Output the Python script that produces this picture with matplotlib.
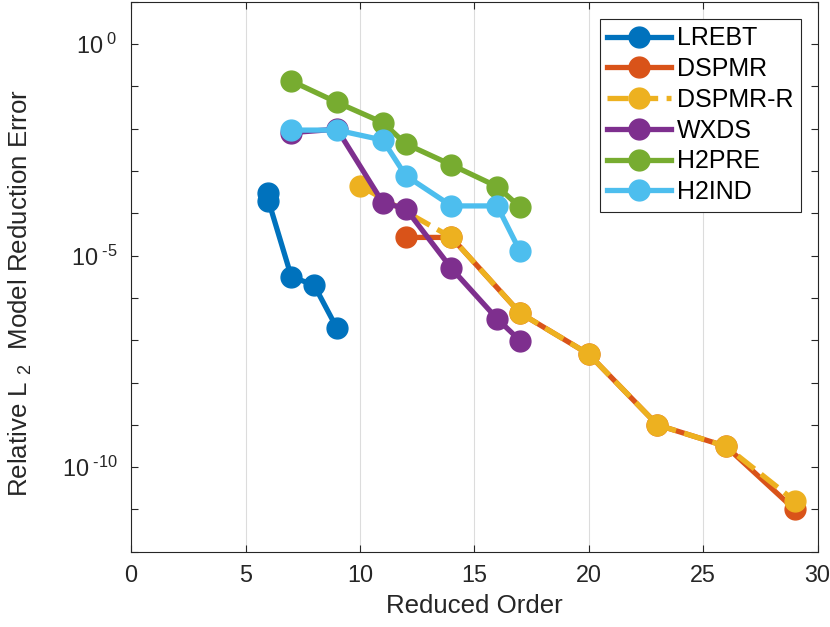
import matplotlib
matplotlib.use("Agg")
import matplotlib.pyplot as plt
from matplotlib.ticker import FixedLocator, FuncFormatter

plt.rcParams['font.family'] = ['Liberation Sans', 'DejaVu Sans']
plt.rcParams['mathtext.fontset'] = 'custom'
plt.rcParams['mathtext.rm'] = 'Liberation Sans'

# data (reduced order vs relative error)
lrebt_x = [6, 6, 7, 8, 9]
lrebt_err = [3.1e-4, 2.0e-4, 3.2e-6, 2.0e-6, 1.9e-7]

dspmr_x = [12, 14, 17, 20, 23, 26, 29]
dspmr_err = [2.7e-5, 2.7e-5, 4.4e-7, 4.7e-8, 1.0e-9, 3.1e-10, 1.0e-11]

dspmrr_x = [10, 14, 17, 20, 23, 26, 29]
dspmrr_err = [4.5e-4, 2.7e-5, 4.4e-7, 4.7e-8, 1.0e-9, 3.1e-10, 1.6e-11]

wxds_x = [7, 9, 11, 12, 14, 16, 17]
wxds_err = [8.1e-3, 9.8e-3, 1.8e-4, 1.3e-4, 5.0e-6, 3.2e-7, 9.8e-8]

h2pre_x = [7, 9, 11, 12, 14, 16, 17]
h2pre_err = [1.35e-1, 4.2e-2, 1.4e-2, 4.4e-3, 1.4e-3, 4.3e-4, 1.4e-4]

h2ind_x = [7, 9, 11, 12, 14, 16, 17]
h2ind_err = [9.3e-3, 9.3e-3, 5.4e-3, 7.8e-4, 1.5e-4, 1.5e-4, 1.26e-5]

xticks = [0, 5, 10, 15, 20, 25, 30]
ydecades = list(range(-12, 2))

fig = plt.figure(figsize=(8.3, 6.27), dpi=100)
ax = fig.add_axes([0.158, 0.12, 0.827, 0.877])

style = dict(lw=3.8, marker='o', ms=15)
ax.plot(lrebt_x, lrebt_err, color='#0072BD', label='LREBT', **style)
ax.plot(dspmr_x, dspmr_err, color='#D95319', label='DSPMR', **style)
ax.plot(dspmrr_x, dspmrr_err, color='#EDB120', ls=(0, (4, 1.6)), label='DSPMR-R', **style)
ax.plot(wxds_x, wxds_err, color='#7E2F8E', label='WXDS', **style)
ax.plot(h2pre_x, h2pre_err, color='#77AC30', label='H2PRE', **style)
ax.plot(h2ind_x, h2ind_err, color='#4DBEEE', label='H2IND', **style)

ax.set_yscale('log')
ax.set_xlim(0, 30)
ax.set_ylim(1e-12, 1e1)
ax.set_xticks(xticks)
ax.yaxis.set_major_locator(FixedLocator([10.0 ** d for d in ydecades]))
ax.yaxis.set_minor_locator(FixedLocator([]))


def fmt(v, pos):
    for d in (0, -5, -10):
        if abs(v - 10.0 ** d) < 1e-3 * 10.0 ** d:
            return r'$\mathregular{10^{\;\text{%d}}}$' % d
    return ''


ax.yaxis.set_major_formatter(FuncFormatter(fmt))

gray = '#262626'
for s in ax.spines.values():
    s.set_color(gray)
    s.set_linewidth(0.8)
ax.tick_params(direction='in', top=True, right=True, colors=gray,
               labelsize=16.8, length=5, width=0.8)
ax.tick_params(axis='x', pad=9)
ax.tick_params(axis='y', pad=10)
ax.grid(True, axis='x', color='#dcdcdc', lw=0.8)
ax.set_axisbelow(True)

ax.set_xlabel('Reduced Order', fontsize=18.6, color=gray, labelpad=5)
ax.set_ylabel(r'Relative L $\mathregular{_{2}}$  Model Reduction Error', fontsize=18.6, color=gray)
ax.yaxis.set_label_coords(-0.141, 0.47)

leg = ax.legend(loc='upper right', bbox_to_anchor=(0.976, 0.969), borderaxespad=0,
                fontsize=18, numpoints=1, handlelength=2.55, fancybox=False,
                framealpha=1, edgecolor=gray, labelspacing=0.27,
                handletextpad=0.25, borderpad=0.3)
leg.get_frame().set_linewidth(0.8)

fig.savefig('out.png', dpi=100)
